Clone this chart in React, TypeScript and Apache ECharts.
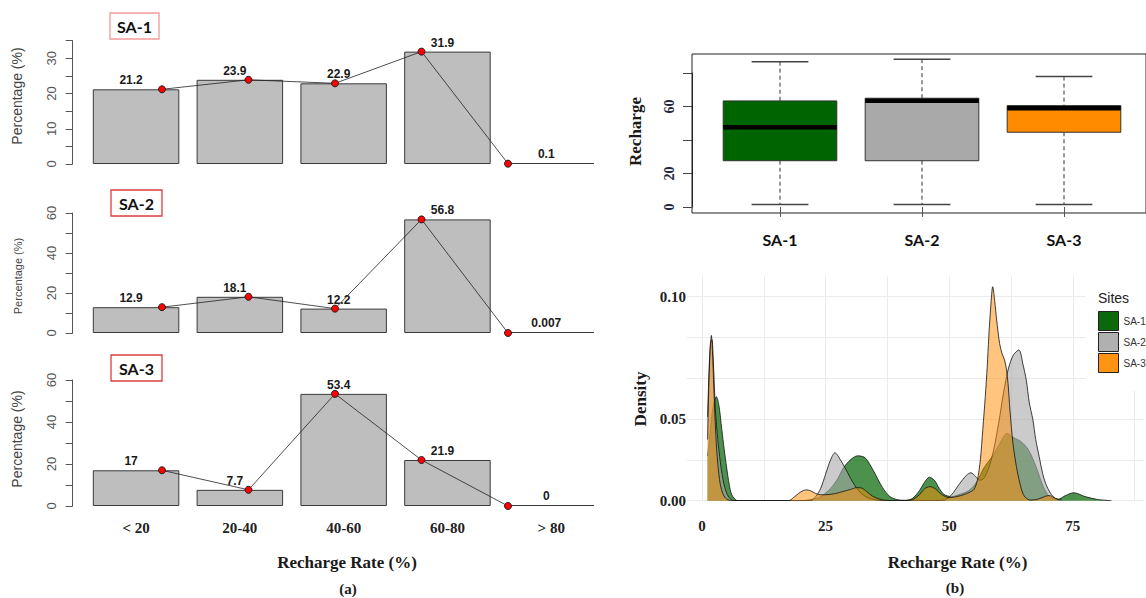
import React, { useEffect, useRef } from 'react';
import * as echarts from 'echarts';

// ---------- Panel (a): recharge-rate class percentages ----------
const rateClasses = ['< 20', '20-40', '40-60', '60-80', '> 80'];
const sa1Pct = [21.2, 23.9, 22.9, 31.9, 0.1];
const sa2Pct = [12.9, 18.1, 12.2, 56.8, 0.007];
const sa3Pct = [17, 7.7, 53.4, 21.9, 0];
const pointPositions = [1, 2, 3, 4, 5];

// ---------- Panel (b) top: boxplot stats [min, Q1, median, Q3, max] ----------
const siteNames = ['SA-1', 'SA-2', 'SA-3'];
const sa1Box = [1.4, 27.6, 47.6, 63.3, 86.7];
const sa2Box = [1.4, 27.6, 63.4, 64.9, 88.2];
const sa3Box = [1.4, 44.6, 58.9, 60.5, 77.8];

// ---------- Panel (b) bottom: density curves ----------
const sa1DensX = [1.13, 1.5, 1.9, 2.4, 2.9, 3.4, 4.0, 4.5, 5.0, 5.5, 6.0, 6.6, 7.2, 10, 15, 20, 22, 24, 26, 27.5, 28.6, 30, 31.5, 33, 34.6, 36.5, 38, 39.5, 41, 42.5, 44, 45, 46, 47, 48, 49, 50.5, 52, 54, 55.5, 57, 58.5, 60, 61.7, 63, 64.5, 66, 67.5, 69, 70.3, 72, 73.5, 75.2, 77.5, 80, 82.8];
const sa1DensY = [0.022, 0.03, 0.04, 0.048, 0.051, 0.047, 0.035, 0.025, 0.016, 0.008, 0.003, 0.001, 0, 0, 0, 0, 0.0005, 0.002, 0.006, 0.011, 0.016, 0.02, 0.022, 0.021, 0.015, 0.0065, 0.002, 0.0005, 0.0002, 0.001, 0.005, 0.009, 0.0115, 0.01, 0.006, 0.003, 0.002, 0.003, 0.005, 0.009, 0.016, 0.021, 0.027, 0.033, 0.031, 0.029, 0.025, 0.017, 0.007, 0.002, 0.0007, 0.0025, 0.0039, 0.002, 0.0006, 0];
const sa2DensX = [1.13, 1.4, 1.7, 2.0, 2.3, 2.7, 3.2, 3.7, 4.2, 4.8, 5.5, 6.5, 10, 15, 20, 22, 23, 24, 25, 26, 26.9, 28, 29.4, 30.5, 32, 33.5, 35, 37, 40, 45, 49, 50.5, 52, 53.5, 54.4, 55.3, 56.2, 57, 58, 59, 60, 61, 62, 63, 64.1, 64.9, 65.6, 66.2, 66.9, 67.5, 68.2, 68.9, 69.5, 70.5, 71.5, 72.8];
const sa2DensY = [0.041, 0.062, 0.077, 0.079, 0.068, 0.045, 0.03, 0.019, 0.011, 0.005, 0.0015, 0, 0, 0, 0, 0, 0.002, 0.006, 0.013, 0.02, 0.0235, 0.02, 0.014, 0.009, 0.004, 0.0015, 0.0005, 0, 0, 0, 0.0003, 0.003, 0.008, 0.0125, 0.0137, 0.012, 0.01, 0.011, 0.016, 0.025, 0.038, 0.053, 0.065, 0.0715, 0.0739, 0.067, 0.059, 0.048, 0.04, 0.03, 0.0216, 0.0134, 0.0085, 0.0036, 0.0011, 0.0003];
const sa3DensX = [1.13, 1.4, 1.7, 1.9, 2.1, 2.4, 2.8, 3.2, 3.7, 4.3, 5.0, 6.0, 10, 15, 17.5, 18.5, 19.5, 20.5, 21.2, 22, 23, 24, 25.5, 27, 28.5, 30, 31.3, 32.3, 33.3, 34.5, 36, 37.5, 40, 42.5, 44, 45, 46.1, 47.2, 48.5, 50, 51.5, 53, 54, 55, 55.7, 56.3, 56.8, 57.3, 57.7, 58.0, 58.4, 58.8, 59.2, 59.6, 60.2, 60.7, 61.2, 61.6, 61.9, 62.3, 62.9, 63.6, 64.3, 65.0, 65.8, 66.5, 68, 69.5, 70.3, 71.2, 72.2];
const sa3DensY = [0.03, 0.058, 0.076, 0.081, 0.074, 0.055, 0.032, 0.018, 0.008, 0.003, 0.0008, 0, 0, 0, 0, 0.0015, 0.0035, 0.005, 0.0053, 0.0048, 0.0035, 0.0029, 0.003, 0.0035, 0.0045, 0.0055, 0.0064, 0.0062, 0.0045, 0.0022, 0.0007, 0.0001, 0, 0.0005, 0.003, 0.0058, 0.0069, 0.0058, 0.003, 0.0015, 0.002, 0.003, 0.004, 0.0055, 0.01, 0.02, 0.035, 0.051, 0.066, 0.08, 0.095, 0.1049, 0.098, 0.0886, 0.077, 0.072, 0.069, 0.064, 0.0575, 0.044, 0.028, 0.0167, 0.0085, 0.003, 0.0008, 0.0003, 0.0008, 0.0022, 0.0025, 0.0015, 0.0004];

const densityTickLabels: Record<string, string> = { '0': '0.00', '0.04': '0.05', '0.1': '0.10' };

const siteColors = ['#006400', '#a9a9a9', '#ff8c00'];
const legendColors = ['#0b680b', '#b0b0b0', '#ff9412'];
const densFills = ['rgba(0,100,0,0.7)', 'rgba(169,169,169,0.6)', 'rgba(255,140,0,0.5)'];

const SERIF = 'Liberation Serif';
const SANS = 'Liberation Sans';

function buildOption() {
  const grid: any[] = [];
  const xAxis: any[] = [];
  const yAxis: any[] = [];
  const series: any[] = [];

  // ----- left bar panels -----
  const panels = [
    { data: sa1Pct, top: 40.7, base: 164, max: 35, interval: 5 },
    { data: sa2Pct, top: 213, base: 333, max: 60, interval: 10 },
    { data: sa3Pct, top: 380, base: 506, max: 60, interval: 10 },
  ];
  panels.forEach((p, i) => {
    const g = grid.length;
    grid.push({ left: 84.15, width: 519, top: p.top, height: p.base - p.top });
    const xc = xAxis.length;
    xAxis.push({
      type: 'category', gridIndex: g, data: rateClasses,
      axisLine: { show: false }, axisTick: { show: false },
      axisLabel: i === 2
        ? { show: true, margin: 14, fontFamily: SERIF, fontWeight: 'bold', fontSize: 15, color: '#222' }
        : { show: false },
    });
    const xv = xAxis.length;
    xAxis.push({ type: 'value', gridIndex: g, min: 0.1, max: 6.1, show: false });
    const yi = yAxis.length;
    yAxis.push({
      type: 'value', gridIndex: g, min: 0, max: p.max, interval: p.interval, offset: 11.45,
      axisLine: { show: true, lineStyle: { color: '#555', width: 1 } },
      axisTick: { show: true, length: 7, lineStyle: { color: '#555' } },
      splitLine: { show: false },
      axisLabel: {
        rotate: 90, margin: 15, fontFamily: SANS, fontSize: 13, color: '#555',
        formatter: (v: number) => (Math.round(v) % (2 * p.interval) === 0 ? String(v) : ''),
      },
    });
    series.push({
      type: 'bar', xAxisIndex: xc, yAxisIndex: yi, data: p.data, barWidth: 86.5, barMinHeight: 1,
      itemStyle: { color: '#bebebe', borderColor: '#3a3a3a', borderWidth: 1 },
      label: {
        show: true, position: 'top', distance: 3, offset: [-5, 0],
        fontFamily: SANS, fontWeight: 'bold', fontSize: 12, color: '#1a1a1a',
        formatter: (q: any) => String(q.value),
      },
    });
    series.push({
      type: 'line', xAxisIndex: xv, yAxisIndex: yi,
      data: pointPositions.map((x, k) => [x, p.data[k]]),
      symbol: 'circle', symbolSize: 7,
      itemStyle: { color: '#ff0000', borderColor: '#222', borderWidth: 1 },
      lineStyle: { color: '#222', width: 0.8 }, z: 3,
    });
  });

  // ----- boxplot frame -----
  const gFrame = grid.length;
  grid.push({ left: 692, top: 54, width: 460, height: 159, show: true, borderColor: '#222', borderWidth: 1, backgroundColor: 'rgba(0,0,0,0)' });
  xAxis.push({ type: 'value', gridIndex: gFrame, show: false });
  yAxis.push({ type: 'value', gridIndex: gFrame, show: false });

  // boxplot y axis (0..80)
  const gBY = grid.length;
  grid.push({ left: 692, top: 73, width: 460, height: 134 });
  xAxis.push({ type: 'value', gridIndex: gBY, show: false });
  yAxis.push({
    type: 'value', gridIndex: gBY, min: 0, max: 80, interval: 20,
    axisLine: { show: true, lineStyle: { color: '#222' } },
    axisTick: { show: true, length: 9, lineStyle: { color: '#444' } },
    splitLine: { show: false },
    axisLabel: {
      rotate: 90, margin: 16, fontFamily: SERIF, fontWeight: 'bold', fontSize: 14, color: '#1f2840',
      formatter: (v: number) => (v === 0 || v === 20 || v === 60 ? String(v) : ''),
    },
  });

  // boxplot boxes
  const gB = grid.length;
  grid.push({ left: 709, top: 54, width: 426, height: 159 });
  const xB = xAxis.length;
  xAxis.push({
    type: 'category', gridIndex: gB, data: siteNames,
    axisLine: { show: false },
    axisTick: { show: true, alignWithLabel: true, length: 10, lineStyle: { color: '#555' } },
    axisLabel: { margin: 18, fontFamily: 'Lato', fontWeight: 'bold', fontSize: 16, color: '#111' },
  });
  const yB = yAxis.length;
  yAxis.push({ type: 'value', gridIndex: gB, min: -3.6, max: 91.3, show: false });
  const boxes = [sa1Box, sa2Box, sa3Box];
  series.push({
    type: 'custom', name: 'box', xAxisIndex: xB, yAxisIndex: yB,
    data: boxes.map((b, i) => [i, ...b]),
    encode: { x: 0, y: [1, 2, 3, 4, 5] },
    renderItem: (params: any, api: any) => {
      const idx = api.value(0);
      const lo = api.coord([idx, api.value(1)]);
      const q1 = api.coord([idx, api.value(2)]);
      const med = api.coord([idx, api.value(3)]);
      const q3 = api.coord([idx, api.value(4)]);
      const hi = api.coord([idx, api.value(5)]);
      const band = api.coord([1, 0])[0] - api.coord([0, 0])[0];
      const boxW = band * 0.8;
      const capW = boxW * 0.5;
      const cx = lo[0];
      const dash = { stroke: '#333', lineWidth: 1, lineDash: [4, 3] };
      const cap = { stroke: '#444', lineWidth: 1.5 };
      return {
        type: 'group',
        children: [
          { type: 'line', shape: { x1: cx, y1: hi[1], x2: cx, y2: q3[1] }, style: dash },
          { type: 'line', shape: { x1: cx, y1: q1[1], x2: cx, y2: lo[1] }, style: dash },
          { type: 'line', shape: { x1: cx - capW / 2, y1: hi[1], x2: cx + capW / 2, y2: hi[1] }, style: cap },
          { type: 'line', shape: { x1: cx - capW / 2, y1: lo[1], x2: cx + capW / 2, y2: lo[1] }, style: cap },
          { type: 'rect', shape: { x: cx - boxW / 2, y: q3[1], width: boxW, height: q1[1] - q3[1] }, style: { fill: siteColors[idx], stroke: '#333', lineWidth: 1 } },
          { type: 'line', shape: { x1: cx - boxW / 2, y1: med[1], x2: cx + boxW / 2, y2: med[1] }, style: { stroke: '#000', lineWidth: 4.5 } },
        ],
      };
    },
  });

  // ----- density panel -----
  const gD = grid.length;
  grid.push({ left: 702, width: 450.7, top: 276.3, height: 224.4 });
  const xD = xAxis.length;
  xAxis.push({
    type: 'value', gridIndex: gD, min: 0, max: 89.2, interval: 12.5,
    axisLine: { show: false }, axisTick: { show: false },
    splitLine: { show: true, showMaxLine: false, lineStyle: { color: '#ebebeb', width: 1 } },
    axisLabel: {
      margin: 18, fontFamily: SERIF, fontWeight: 'bold', fontSize: 15, color: '#222',
      formatter: (v: number) => (Math.abs(v % 25) < 1e-9 ? String(v) : ''),
    },
  });
  const yD = yAxis.length;
  yAxis.push({
    type: 'value', gridIndex: gD, min: 0, max: 0.11, interval: 0.02,
    axisLine: { show: false }, axisTick: { show: false },
    splitLine: { show: true, showMaxLine: false, lineStyle: { color: '#ebebeb', width: 1 } },
    axisLabel: {
      margin: 16, fontFamily: SERIF, fontWeight: 'bold', fontSize: 15, color: '#222',
      formatter: (v: number) => densityTickLabels[String(Math.round(v * 1000) / 1000)] || '',
    },
  });
  // left extension of horizontal grid lines (panel starts a little before 0)
  const gE = grid.length;
  grid.push({ left: 686.7, width: 15.3, top: 276.3, height: 224.4 });
  xAxis.push({ type: 'value', gridIndex: gE, show: false });
  yAxis.push({
    type: 'value', gridIndex: gE, min: 0, max: 0.11, interval: 0.02,
    axisLine: { show: false }, axisTick: { show: false }, axisLabel: { show: false },
    splitLine: { show: true, showMaxLine: false, lineStyle: { color: '#ebebeb', width: 1 } },
  });

  const dens = [
    [sa1DensX, sa1DensY],
    [sa2DensX, sa2DensY],
    [sa3DensX, sa3DensY],
  ];
  dens.forEach(([xs, ys], i) => {
    series.push({
      type: 'line', name: siteNames[i], xAxisIndex: xD, yAxisIndex: yD,
      data: xs.map((x, k) => [x, ys[k]]),
      showSymbol: false, symbol: 'none', smooth: 0.3,
      lineStyle: { color: '#111', width: 0.8 },
      itemStyle: { color: legendColors[i] },
      areaStyle: { color: densFills[i], opacity: 1 },
      z: 2 + i * 0.01,
    });
  });

  const boldSerif = (size: number) => `bold ${size}px "${SERIF}"`;
  const txt = (text: string, x: number, y: number, font: string, fill: string, rot = 0) => ({
    type: 'text', x, y, rotation: rot, z: 100,
    style: { text, font, fill, textAlign: 'center', textVerticalAlign: 'middle', align: 'center', verticalAlign: 'middle' },
  });
  const box = (x: number, y: number, w: number, h: number, stroke: string) => ({
    type: 'rect', shape: { x, y, width: w, height: h }, z: 100,
    style: { fill: '#fff', stroke, lineWidth: 1.3 },
  });

  const graphic = [
    box(110, 13, 49, 26, '#f29a9a'),
    txt('SA-1', 134.5, 26.5, 'bold 16px "Lato"', '#111'),
    box(111, 190, 51, 26, '#e03c3c'),
    txt('SA-2', 136.5, 203.5, 'bold 16px "Lato"', '#111'),
    box(111, 355, 51, 26, '#e03c3c'),
    txt('SA-3', 136.5, 368.5, 'bold 16px "Lato"', '#111'),
    txt('Percentage (%)', 17, 96, `14px "${SANS}"`, '#444', Math.PI / 2),
    txt('Percentage (%)', 17.5, 276, `11px "${SANS}"`, '#444', Math.PI / 2),
    txt('Percentage (%)', 17, 439, `14px "${SANS}"`, '#444', Math.PI / 2),
    txt('Recharge Rate (%)', 347, 562, boldSerif(17), '#1a1a1a'),
    txt('(a)', 348, 588.5, boldSerif(15), '#1a1a1a'),
    txt('Recharge', 635, 131.5, boldSerif(17), '#1a1a1a', Math.PI / 2),
    txt('Density', 640, 399, boldSerif(17), '#1a1a1a', Math.PI / 2),
    txt('Recharge Rate (%)', 957.5, 562, boldSerif(17), '#1a1a1a'),
    txt('(b)', 955, 588, boldSerif(15), '#1a1a1a'),
    {
      type: 'text', x: 1098, y: 298, z: 100,
      style: { text: 'Sites', font: `14px "${SANS}"`, fill: '#222', textAlign: 'left', textVerticalAlign: 'middle', align: 'left', verticalAlign: 'middle' },
    },
  ];

  return {
    animation: false,
    backgroundColor: '#fff',
    grid, xAxis, yAxis, series, graphic,
    legend: {
      left: 1086, top: 275, orient: 'vertical', padding: [36, 40, 18, 12],
      backgroundColor: '#fff', itemWidth: 20, itemHeight: 19, itemGap: 1, selectedMode: false,
      textStyle: { fontFamily: SANS, fontSize: 10, color: '#333' },
      data: siteNames.map((n, i) => ({
        name: n, icon: 'rect',
        itemStyle: { color: legendColors[i], borderColor: '#222', borderWidth: 1 },
      })),
    },
  };
}

export default function App() {
  const ref = useRef<HTMLDivElement>(null);
  useEffect(() => {
    const chart = echarts.init(ref.current as HTMLDivElement, null, { renderer: 'svg' });
    chart.setOption(buildOption() as any);
    return () => chart.dispose();
  }, []);
  return (
    <div
      ref={ref}
      style={{ position: 'fixed', left: 0, top: 0, width: 1146, height: 598, background: '#fff' }}
    />
  );
}
